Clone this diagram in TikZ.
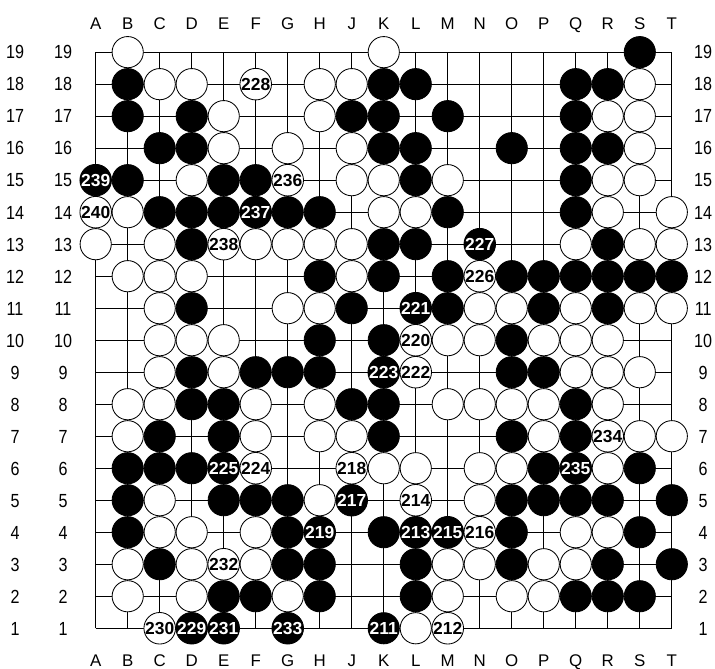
\documentclass[tikz,border=0pt]{standalone}
\usepackage{fontspec}
\setmainfont{Liberation Sans}
\newfontfamily\rownumfont[FakeStretch=0.85]{Liberation Sans}
\begin{document}
\begin{tikzpicture}[x=0.8cm, y=0.8cm, line width=0.6pt,
  stone/.style={circle, draw=black, inner sep=0pt, minimum size=0.78cm,
    text height=8.9pt, text depth=0pt, font=\fontsize{12.4}{12}\selectfont\bfseries},
  bstone/.style={stone, fill=black, text=white},
  wstone/.style={stone, fill=white, text=black},
  lbl/.style={inner sep=0pt, text height=8.6pt, text depth=0pt, font=\fontsize{12}{14}\selectfont},
  numlbl/.style={inner sep=0pt, text height=9.7pt, text depth=0pt, font=\fontsize{13.5}{14}\rownumfont}]
  \fill[white] (-2.99,-1.27) rectangle (19.35,19.63);
  % board
  \foreach \i in {0,...,18} {
    \draw (\i,0) -- (\i,18);
    \draw (0,\i) -- (18,\i);
  }
  \foreach \col [count=\i from 0] in {A,B,C,D,E,F,G,H,J,K,L,M,N,O,P,Q,R,S,T} {
    \node[lbl] (top\col) at (\i,18.9) {\col};
    \node[lbl] (bot\col) at (\i,-1.02) {\col};
    \foreach \row in {1,...,19}
      \coordinate (\col\row) at (\i,\row-1);
  }
  \foreach \row in {1,...,19} {
    \node[numlbl] (lfa\row) at (-2.52,\row-1) {\row};
    \node[numlbl] (lfb\row) at (-1.02,\row-1) {\row};
    \node[numlbl] (rgt\row) at (18.98,\row-1) {\row};
  }
  % white stones
  \foreach \p in {B19,K19, C18,D18,H18,J18,S18, E17,H17,R17,S17, E16,G16,J16,S16,
    D15,J15,K15,M15,R15,S15, B14,K14,L14,R14,T14, A13,C13,F13,G13,H13,J13,Q13,S13,T13,
    B12,C12,D12,J12, C11,G11,H11,N11,O11,Q11,S11,T11, C10,D10,E10,M10,N10,P10,Q10,R10,
    C9,E9,Q9,R9,S9, B8,C8,F8,H8,M8,N8,O8,P8,R8, B7,F7,H7,J7,P7,S7,T7,
    K6,L6,N6,O6,R6, C5,H5,N5, C4,D4,F4,Q4,R4, B3,D3,F3,M3,N3,P3,Q3,
    B2,D2,G2,M2,O2,P2, L1}
    \node[wstone] (w\p) at (\p) {};
  % black stones
  \foreach \p in {S19, B18,K18,L18,Q18,R18, B17,D17,J17,K17,M17,Q17,
    C16,D16,K16,L16,O16,Q16,R16, B15,E15,F15,L15,Q15, C14,D14,E14,G14,H14,M14,Q14,
    D13,K13,L13,R13, H12,K12,M12,O12,P12,Q12,R12,S12,T12, D11,J11,M11,P11,R11,
    H10,K10,O10, D9,F9,G9,H9,O9,P9, D8,E8,J8,K8,Q8, C7,E7,K7,O7,Q7,
    B6,C6,D6,P6,S6, B5,E5,F5,G5,O5,P5,Q5,R5,T5, B4,G4,K4,O4,S4,
    C3,G3,H3,L3,O3,R3,T3, E2,F2,H2,L2,Q2,R2,S2}
    \node[bstone] (b\p) at (\p) {};
  % numbered moves
  \foreach \p/\n in {M1/212, L5/214, N4/216, J6/218, L10/220, L9/222, F6/224, N12/226,
    F18/228, C1/230, E3/232, R7/234, G15/236, E13/238, A14/240}
    \node[wstone] (m\n) at (\p) {\n};
  \foreach \p/\n in {K1/211, L4/213, M4/215, J5/217, H4/219, L11/221, K9/223, E6/225,
    N13/227, D1/229, E1/231, G1/233, Q6/235, F14/237, A15/239}
    \node[bstone] (m\n) at (\p) {\n};
\end{tikzpicture}
\end{document}
